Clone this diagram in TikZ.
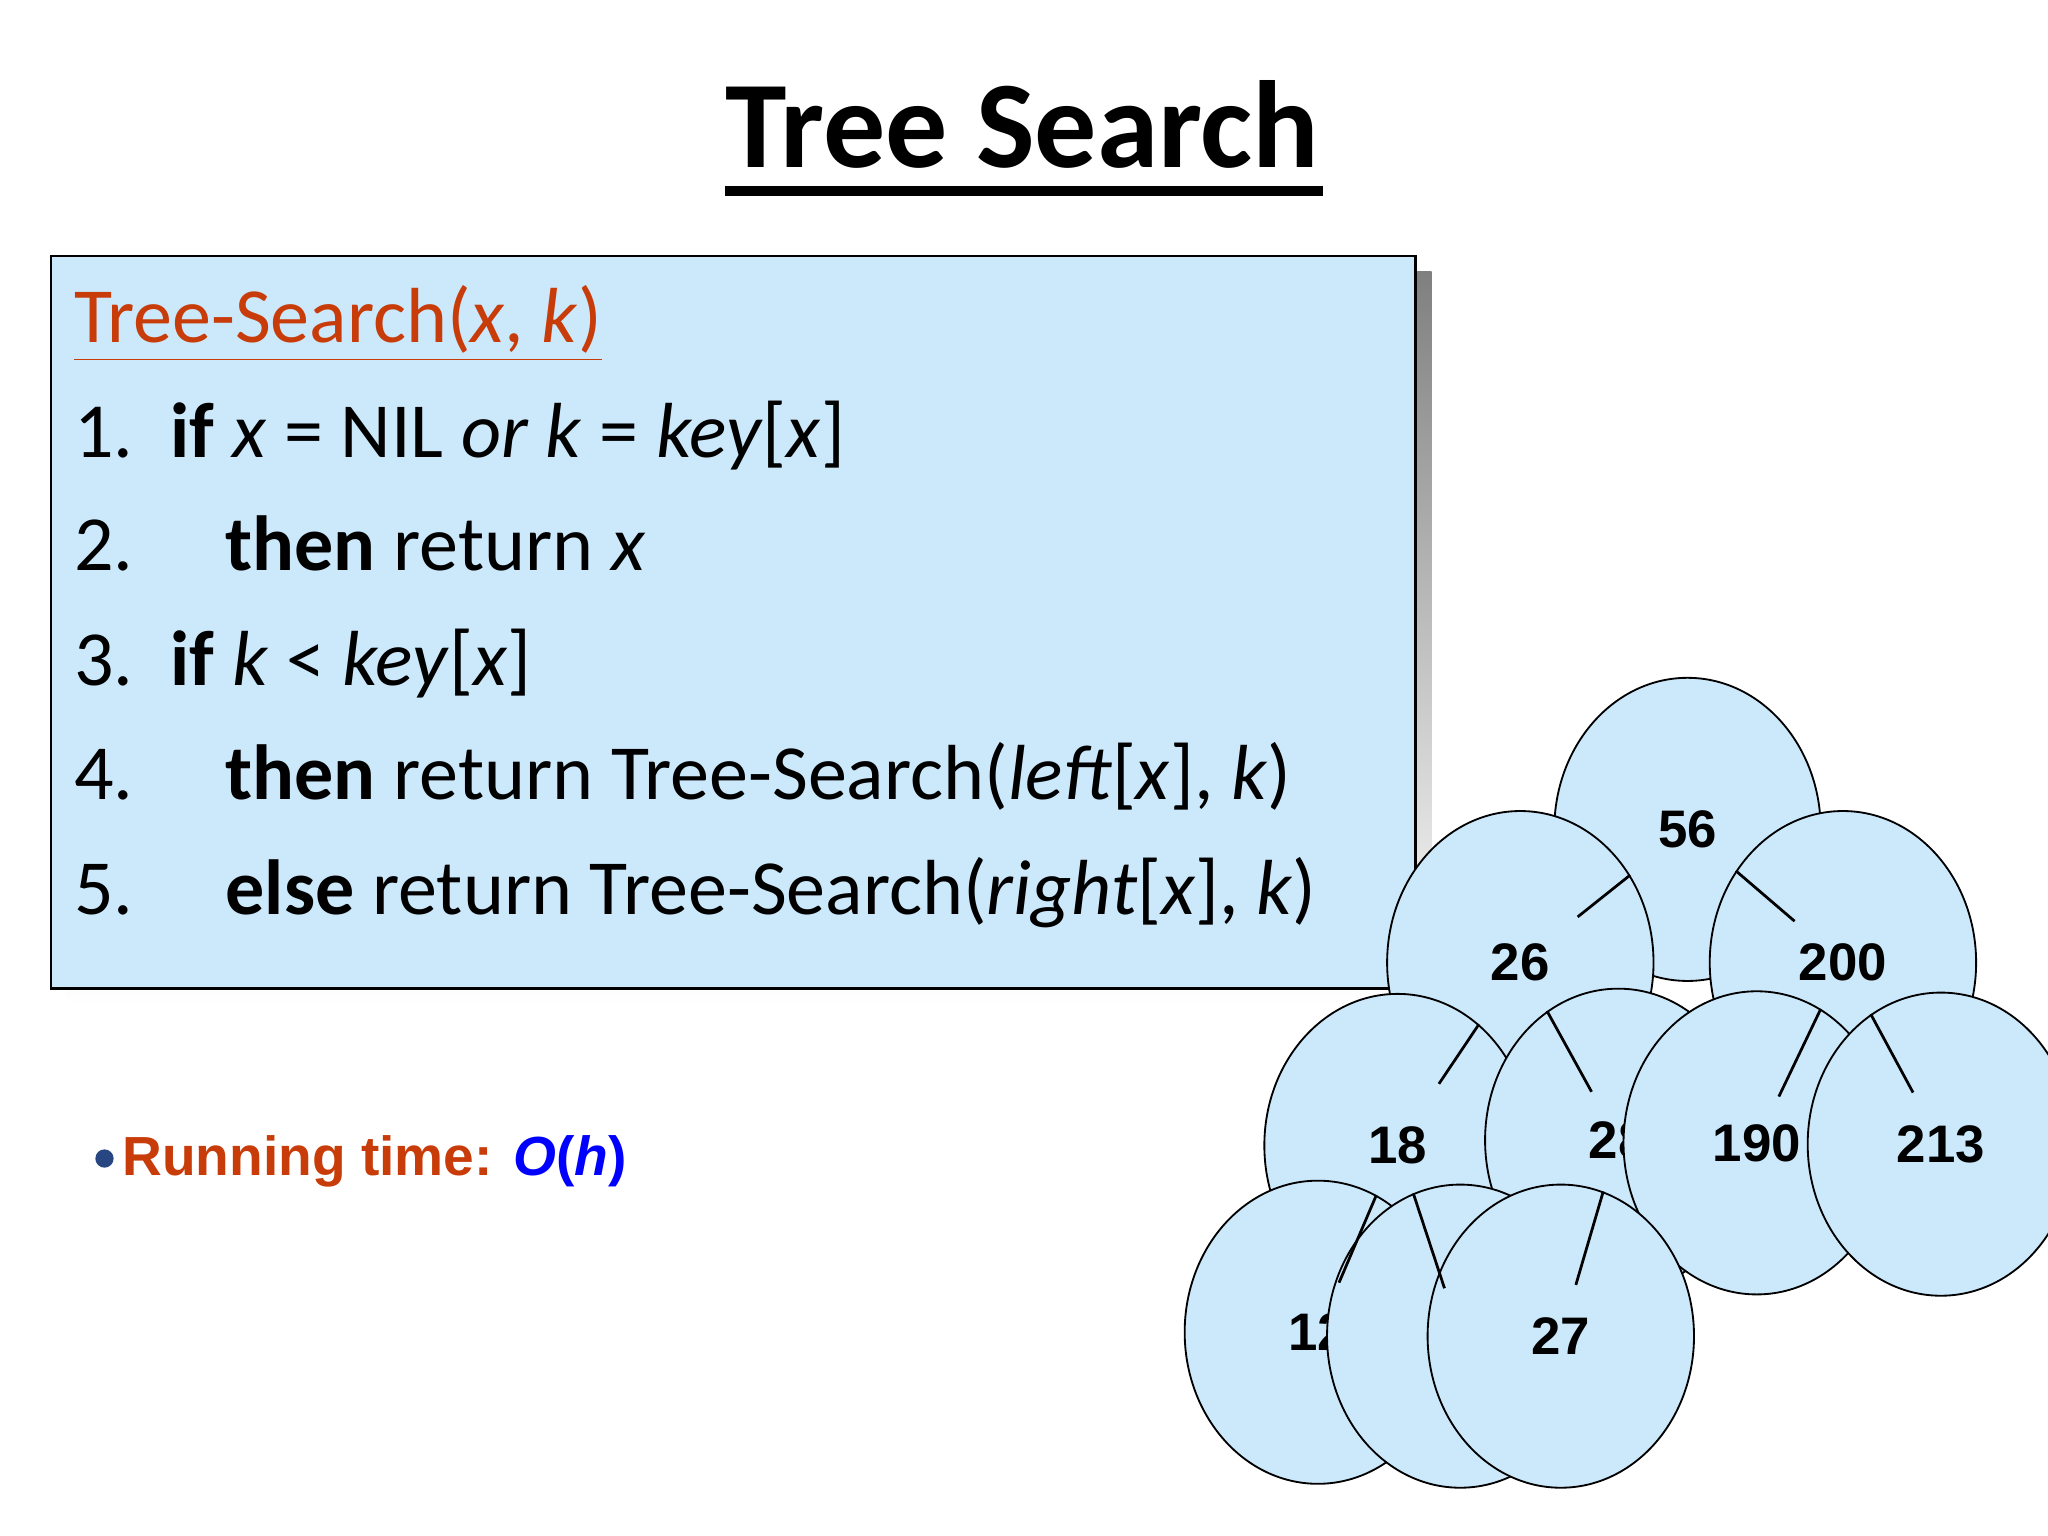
\documentclass[tikz,border=0pt]{standalone}
\usepackage{fontspec}
\setmainfont{Carlito}
\newfontfamily\arialf{Liberation Sans}
\definecolor{boxblue}{RGB}{204,233,252}
\definecolor{codered}{RGB}{200,60,10}
\definecolor{shade}{RGB}{225,222,210}
\definecolor{bulletblue}{RGB}{40,70,130}
\begin{document}
\begin{tikzpicture}[x=0.01cm,y=-0.01cm,
  code/.style={anchor=base west,inner sep=0pt,font=\fontsize{17}{20}\selectfont},
  tnode/.style={draw,fill=boxblue,ellipse,minimum width=58,minimum height=66,inner sep=0pt,font=\arialf\bfseries\fontsize{11.5}{13}\selectfont}]
\useasboundingbox (0,0) rectangle (1568,1176);
\usetikzlibrary{shapes.geometric}
% title
\node[anchor=base,inner sep=0pt,font=\bfseries\fontsize{27}{30}\selectfont] (title) at (783,128) {Tree Search};
\draw[line width=2.2pt] (555,146) -- (1013,146);
% box
\fill[shade] (51,208) rectangle (1096,769);
\draw[fill=boxblue,line width=0.6pt] (39,196) rectangle (1084,757);
\node[code,text=codered] (head) at (56,262) {\underline{Tree-Search(\textit{x}, \textit{k})}};
\node[code] (n1) at (56,350) {1.};
\node[code] (l1) at (130,350) {\textbf{if} \textit{x} = NIL \textit{or k} = \textit{key}[\textit{x}]};
\node[code] (n2) at (56,437) {2.};
\node[code] (l2) at (172,437) {\textbf{then} return \textit{x}};
\node[code] (n3) at (56,525) {3.};
\node[code] (l3) at (130,525) {\textbf{if} \textit{k} < \textit{key}[\textit{x}]};
\node[code] (n4) at (56,612) {4.};
\node[code] (l4) at (172,612) {\textbf{then} return Tree-Search(\textit{left}[\textit{x}], \textit{k})};
\node[code] (n5) at (56,700) {5.};
\node[code] (l5) at (172,700) {\textbf{else} return Tree-Search(\textit{right}[\textit{x}], \textit{k})};
% running time
\fill[bulletblue] (80,887) circle (7);
\node[anchor=base west,inner sep=0pt,font=\arialf\bfseries\fontsize{12}{14}\selectfont] (rt) at (93,900) {\textcolor{codered}{Running time: }\textcolor{blue}{\textit{O}(\textit{h})}};
% tree
\node[tnode] (a56) at (1292,635) {56};
\node[tnode] (a26) at (1164,737) {26};
\node[tnode] (a200) at (1411,737) {200};
\node[tnode] (a18) at (1070,877) {18};
\node[tnode] (a28) at (1239,873) {28};
\node[tnode] (a190) at (1345,875) {190};
\node[tnode] (a213) at (1486,876) {213};
\node[tnode] (a12) at (1009,1020) {12};
\node[tnode] (a24) at (1118,1023) {24};
\node[tnode] (a27) at (1195,1023) {27};
\foreach \p/\c in {a56/a26,a56/a200,a26/a18,a26/a28,a200/a190,a200/a213,a18/a12,a18/a24,a28/a27}
  \draw[line width=0.6pt] (\p) -- (\c);
\end{tikzpicture}
\end{document}
